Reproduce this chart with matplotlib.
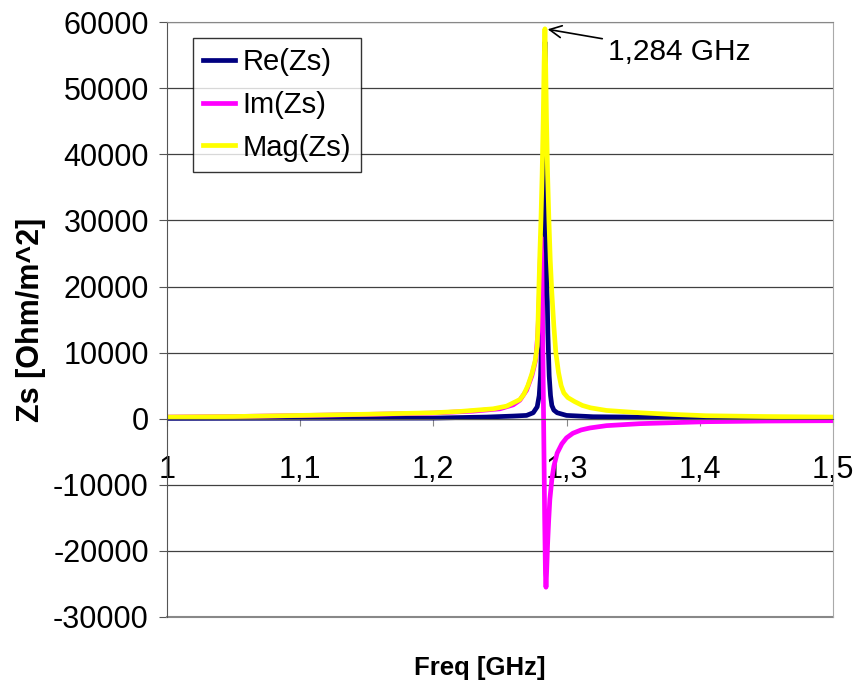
import matplotlib.pyplot as plt
import numpy as np

plt.rcParams["font.family"] = ["Liberation Sans", "DejaVu Sans"]

# Surface impedance around the 1.284 GHz resonance, read per series
freq_re = [1.00, 1.10, 1.20, 1.24, 1.26, 1.27, 1.275, 1.278, 1.2795,
           1.2805, 1.2815, 1.2825, 1.2832, 1.2838, 1.2844, 1.285, 1.286,
           1.287, 1.288, 1.289, 1.2905, 1.293, 1.30, 1.32, 1.35, 1.40, 1.50]
re_zs = [50, 80, 100, 250, 400, 500, 900, 1800, 3500,
         6500, 13000, 25000, 40000, 57000, 40000, 25000, 13000,
         6500, 3500, 2000, 1300, 900, 500, 300, 250, 150, 80]

freq_im = [1.00, 1.05, 1.10, 1.15, 1.20, 1.23, 1.25, 1.26, 1.265, 1.27,
           1.274, 1.277, 1.2785, 1.2795, 1.2803, 1.2808, 1.2814, 1.282,
           1.2828, 1.2836, 1.2842, 1.2846, 1.2851, 1.2858, 1.2866, 1.2875,
           1.289, 1.2905, 1.293, 1.2965, 1.30, 1.3048, 1.311, 1.3176, 1.33,
           1.355, 1.405, 1.45, 1.50]
im_zs = [250, 330, 480, 650, 850, 1150, 1500, 2100, 2800, 4300,
         6500, 9000, 13000, 18000, 24000, 27500, 25000, 15000,
         0, -15000, -23500, -25500, -23000, -19000, -15500, -12200,
         -9200, -7200, -5200, -3800, -2900, -2200, -1700, -1400, -1050,
         -750, -450, -350, -300]

freq_mag = [1.00, 1.05, 1.10, 1.15, 1.20, 1.22, 1.245, 1.255, 1.265,
            1.268, 1.271, 1.274, 1.2765, 1.278, 1.2786, 1.2793, 1.28,
            1.2808, 1.2817, 1.2825, 1.2832, 1.2838, 1.2844, 1.285, 1.2858,
            1.2868, 1.2878, 1.289, 1.2905, 1.292, 1.294, 1.296, 1.298,
            1.301, 1.306, 1.312, 1.318, 1.33, 1.355, 1.38, 1.405, 1.45, 1.50]
mag_zs = [250, 330, 500, 680, 900, 1100, 1500, 1900, 2900,
          3700, 5000, 6800, 8800, 11000, 14500, 20000, 25000,
          30000, 37000, 45000, 54000, 59000, 53000, 45000, 37000,
          30000, 24000, 19000, 14000, 10000, 7000, 5000, 3900,
          3200, 2600, 2000, 1650, 1250, 900, 650, 450, 330, 250]

x_ticks = [1.0, 1.1, 1.2, 1.3, 1.4, 1.5]
x_tick_labels = ["1", "1,1", "1,2", "1,3", "1,4", "1,5"]
y_ticks = list(range(-30000, 60001, 10000))

peak_freq = 1.2838
peak_label = "1,284 GHz"

fs = 22

fig = plt.figure(figsize=(8.56, 6.94), dpi=100)
ax = fig.add_axes([0.195, 0.111, 0.778, 0.857])

ax.plot(freq_re, re_zs, color="#000080", lw=3.4, label="Re(Zs)")
ax.plot(freq_im, im_zs, color="#ff00ff", lw=3.4, label="Im(Zs)")
ax.plot(freq_mag, mag_zs, color="#ffff00", lw=3.4, label="Mag(Zs)")

ax.set_xlim(1.0, 1.5)
ax.set_ylim(-30000, 60000)
ax.set_yticks(y_ticks)
ax.set_yticklabels([str(v) for v in y_ticks])
ax.set_xticks(x_ticks)
ax.set_xticklabels(x_tick_labels)

ax.yaxis.grid(True, color="#404040", lw=0.9)
ax.set_axisbelow(True)

# x axis sits on the zero line, plot area outlined in grey
ax.spines["bottom"].set_position(("data", 0))
ax.spines["bottom"].set_color("#555555")
ax.spines["left"].set_color("#555555")
ax.spines["top"].set_color("#888888")
ax.spines["right"].set_color("#aaaaaa")
ax.axhline(-30000, color="#888888", lw=1.5, clip_on=False)

ax.tick_params(axis="y", direction="out", length=6, color="#555555",
               labelsize=fs, pad=7)
ax.tick_params(axis="x", direction="out", length=5, color="#888888",
               labelsize=fs, pad=21)

ax.set_ylabel("Zs [Ohm/m^2]", fontsize=fs, fontweight="bold", labelpad=5)
fig.text(0.561, 0.037, "Freq [GHz]", fontsize=18.5, fontweight="bold",
         ha="center", va="center")

ax.annotate(peak_label, xy=(peak_freq, max(mag_zs)), xytext=(1.331, 55500),
            fontsize=21.5, va="center", ha="left",
            arrowprops=dict(arrowstyle="->", color="black", lw=1.2,
                            shrinkA=2, shrinkB=2))

leg = ax.legend(loc="upper left", bbox_to_anchor=(0.039, 0.973),
                fontsize=21, frameon=True, fancybox=False, handlelength=1.1,
                handletextpad=0.25, borderpad=0.35, labelspacing=0.5,
                borderaxespad=0)
leg.get_frame().set_edgecolor("black")
leg.get_frame().set_linewidth(1.0)

fig.savefig("out.png", dpi=100)
